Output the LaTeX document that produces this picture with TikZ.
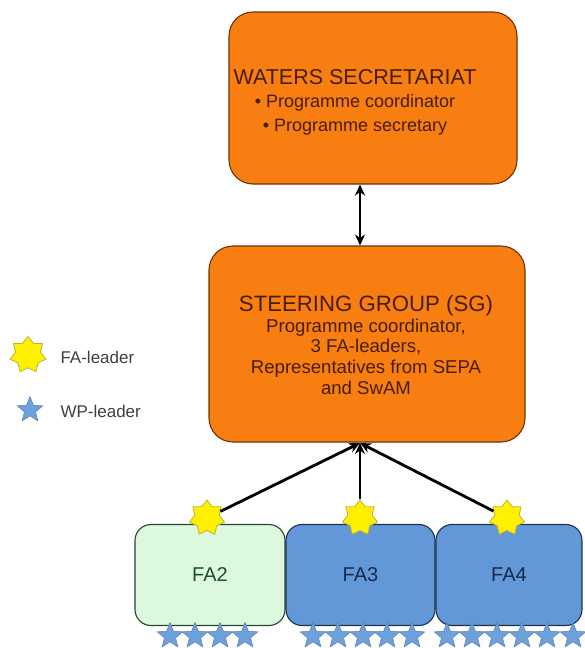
\documentclass[tikz,border=0pt]{standalone}
\usepackage{fontspec}
\setmainfont{Liberation Sans}
\usetikzlibrary{shapes.geometric,arrows.meta}

\definecolor{boxorange}{RGB}{248,126,18}
\definecolor{orangeline}{RGB}{110,50,10}
\definecolor{orangetext}{RGB}{70,30,5}
\definecolor{fablue}{RGB}{98,151,216}
\definecolor{blueline}{RGB}{30,50,80}
\definecolor{bluetext}{RGB}{25,40,75}
\definecolor{fagreen}{RGB}{220,248,222}
\definecolor{greenline}{RGB}{40,70,45}
\definecolor{greentext}{RGB}{30,80,40}
\definecolor{staryellow}{RGB}{255,240,0}
\definecolor{staredge}{RGB}{190,180,40}
\definecolor{wpblue}{RGB}{110,160,220}

\tikzset{
  orangebox/.style={draw=orangeline, fill=boxorange, line width=1.1pt,
    rounded corners=24pt, inner sep=0pt},
  boxtext/.style={text=orangetext, align=center, inner sep=0pt},
  fabox/.style={draw=blueline, fill=fablue, line width=1.1pt,
    rounded corners=16pt, minimum height=101pt, text=bluetext,
    font=\fontsize{20}{23}\selectfont},
  faleader/.style={star, star points=7, star point ratio=1.45,
    minimum size=36pt, inner sep=0pt, fill=staryellow, draw=staredge, line width=0.8pt},
  wpleader/.style={star, star points=5, star point ratio=2.3,
    minimum size=27pt, inner sep=0pt, fill=wpblue, draw=wpblue!80!black, line width=0.5pt},
  link/.style={line width=2.8pt, -{Stealth[length=11pt,width=10pt]}},
  legendtext/.style={anchor=west, text=black!75, font=\fontsize{17}{20}\selectfont}
}

\begin{document}
\begin{tikzpicture}[x=1pt, y=1pt, yscale=-1]
    \useasboundingbox (0,0) rectangle (584,648);

    % Define the positions of the boxes
    \coordinate (secPos) at (373,98);
    \coordinate (sgPos) at (367,344);
    \coordinate (fa2Pos) at (210,575);
    \coordinate (fa3Pos) at (360.5,575);
    \coordinate (fa4Pos) at (509,575);

    % Draw the two orange boxes
    \node[orangebox, minimum width=288pt, minimum height=172pt] (sec) at (secPos) {};
    \node[boxtext, font=\fontsize{18}{23.5}\selectfont] (secText) at ([xshift=-18pt,yshift=4pt]sec.center)
      {{\fontsize{21.5}{23}\selectfont WATERS SECRETARIAT}\\
       • Programme coordinator\\
       • Programme secretary};
    \node[orangebox, minimum width=316pt, minimum height=196pt] (sg) at (sgPos) {};
    \node[boxtext, font=\fontsize{18.6}{20.7}\selectfont] (sgText) at ([xshift=-1pt,yshift=1pt]sg.center)
      {{\fontsize{22.2}{23}\selectfont STEERING GROUP (SG)}\\
       Programme coordinator,\\
       3 FA-leaders,\\
       Representatives from SEPA\\
       and SwAM};

    % Draw the FA boxes
    \node[fabox, minimum width=150pt, draw=greenline, fill=fagreen, text=greentext] (fa2) at (fa2Pos) {FA2};
    \node[fabox, minimum width=149pt] (fa3) at (fa3Pos) {FA3};
    \node[fabox, minimum width=146pt] (fa4) at (fa4Pos) {FA4};

    % FA-leader stars on top of each box
    \node[faleader] (lead2) at (207,518) {};
    \node[faleader] (lead3) at (360,518) {};
    \node[faleader] (lead4) at (507,518) {};

    % WP-leader stars along the bottom
    \foreach \x [count=\i] in {170,195,220,245}
      \node[wpleader] (wp2-\i) at (\x,636) {};
    \foreach \x [count=\i] in {313,338,363,387,412}
      \node[wpleader] (wp3-\i) at (\x,636) {};
    \foreach \x [count=\i] in {447,472,497,522,547,573}
      \node[wpleader] (wp4-\i) at (\x,636) {};

    % Draw the lines
    \draw[line width=2.8pt, {Stealth[length=11pt,width=10pt]}-{Stealth[length=11pt,width=10pt]}]
      (sec.south -| 360,0) -- (sg.north -| 360,0);
    \coordinate (sgIn) at (360,443);
    \draw[link] (lead2) -- (sgIn);
    \draw[link] (lead3) -- (sgIn);
    \draw[link] (lead4) -- (sgIn);

    % Legend
    \node[faleader, minimum size=37pt] (keyFA) at (28,355) {};
    \node[legendtext] (keyFAtext) at (57,357) {FA-leader};
    \node[wpleader] (keyWP) at (30,410) {};
    \node[legendtext] (keyWPtext) at (57,411) {WP-leader};
\end{tikzpicture}
\end{document}
